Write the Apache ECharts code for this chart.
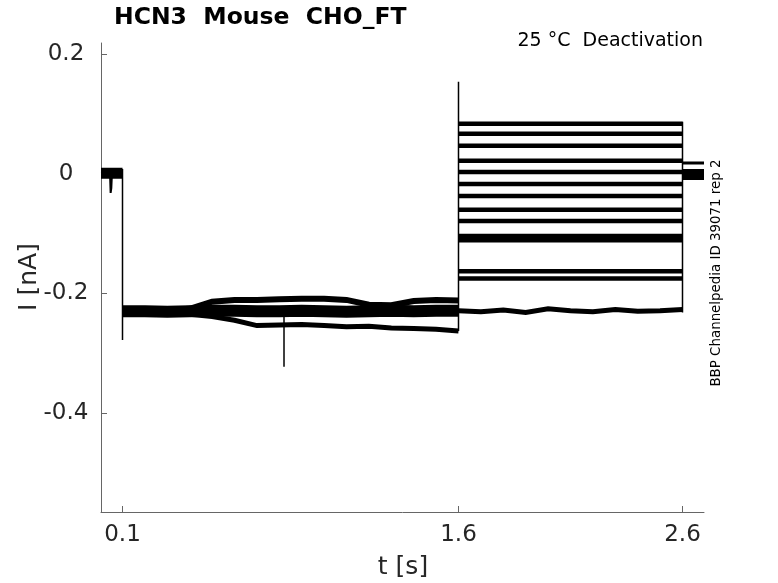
<!DOCTYPE html>
<html>
<head>
<meta charset="utf-8">
<title>HCN3 Mouse CHO_FT</title>
<script src="https://cdn.jsdelivr.net/npm/echarts@6/dist/echarts.min.js"></script>
<style>
  html, body { margin: 0; padding: 0; background: #fff; }
  #chart { width: 778px; height: 583px; }
</style>
</head>
<body>
<div id="chart"></div>
<script>
// axis ticks
const tickX = [0.1, 1.6, 2.6];
const tickY = [0.2, 0, -0.2, -0.4];

// holding period before the pulse (s, nA)
const holdTimes = [0.004, 0.044, 0.047, 0.05, 0.053, 0.1];
const holdCurrent = [0.004, 0.003, -0.032, -0.024, 0.002, 0.004];
const holdLevel = 0.001;

// prepulse 0.1 .. 1.6 s, three groups of sweeps
const preTimes = [0.1, 0.2, 0.3, 0.4, 0.5, 0.6, 0.7, 0.8, 0.9, 1.0, 1.1, 1.2, 1.3, 1.4, 1.5, 1.6];
const preMid = [-0.230, -0.230, -0.231, -0.230, -0.229, -0.229, -0.230, -0.230, -0.229, -0.230, -0.231, -0.230, -0.229, -0.230, -0.229, -0.229];
const preHigh = [-0.229, -0.229, -0.228, -0.226, -0.214, -0.211, -0.211, -0.210, -0.209, -0.209, -0.211, -0.219, -0.220, -0.213, -0.211, -0.212];
const preLow = [-0.231, -0.232, -0.233, -0.235, -0.239, -0.245, -0.254, -0.253, -0.252, -0.254, -0.256, -0.255, -0.258, -0.259, -0.260, -0.263];

// test pulse 1.6 .. 2.6 s, one level per sweep
const testTimes = [1.6, 1.7, 1.8, 1.9, 2.0, 2.1, 2.2, 2.3, 2.4, 2.5, 2.6];
const testLevels = [0.084, 0.067, 0.047, 0.022, 0.003, -0.017, -0.037, -0.060, -0.079, -0.104, -0.111, -0.163, -0.175];
const testBottom = [-0.229, -0.231, -0.228, -0.232, -0.226, -0.229, -0.231, -0.227, -0.230, -0.229, -0.227];

// tail after 2.6 s
const tailTimes = [2.6, 2.696];
const tailUpper = 0.018;
const tailLevel = -0.001;

// fast vertical transitions
const jumpTimes = [0.1, 0.821, 1.6, 2.6];
const jumpFrom = [0.008, -0.232, -0.263, -0.232];
const jumpTo = [-0.278, -0.323, 0.154, 0.087];

const ink = "#000";
const textColor = "#262626";
const font = "DejaVu Sans";

function pairs(times, values) {
  return times.map((t, k) => [t, values[k]]);
}

function trace(data, width) {
  return {
    type: "line",
    data,
    symbol: "none",
    silent: true,
    animation: false,
    lineStyle: { color: ink, width, cap: "butt", join: "miter" },
  };
}

const series = [];
// holding current
series.push(trace(holdTimes.map((t) => [t, holdLevel]), 11));
series.push(trace(pairs(holdTimes, holdCurrent), 2));
// prepulse
series.push(trace(pairs(preTimes, preMid), 12));
series.push(trace(pairs(preTimes, preHigh), 6));
series.push(trace(pairs(preTimes, preLow), 5));
// test pulse
testLevels.forEach((level) => {
  series.push(trace(testTimes.map((t) => [t, level]), 4.5));
});
series.push(trace(pairs(testTimes, testBottom), 5));
// tail
series.push(trace(tailTimes.map((t) => [t, tailUpper]), 3));
series.push(trace(tailTimes.map((t) => [t, tailLevel]), 11));
// vertical steps and spikes
jumpTimes.forEach((t, k) => {
  series.push(trace([[t, jumpFrom[k]], [t, jumpTo[k]]], 1.5));
});

const chart = echarts.init(document.getElementById("chart"));

const axisLine = { show: true, onZero: false, lineStyle: { color: "#666", width: 1 } };

chart.setOption({
  animation: false,
  backgroundColor: "#fff",
  grid: { left: 101, right: 74, top: 43, bottom: 71, containLabel: false },
  xAxis: {
    type: "value",
    min: 0.004,
    max: 2.696,
    axisLine,
    splitLine: { show: false },
    axisTick: { show: true, inside: true, length: 6, customValues: tickX, lineStyle: { color: "#666" } },
    axisLabel: {
      customValues: tickX,
      margin: 12,
      color: textColor,
      fontFamily: font,
      fontSize: 23,
      formatter: (v) => String(v),
    },
  },
  yAxis: {
    type: "value",
    min: -0.566,
    max: 0.219,
    axisLine,
    splitLine: { show: false },
    axisTick: { show: true, inside: true, length: 6, customValues: tickY, lineStyle: { color: "#666" } },
    axisLabel: {
      customValues: tickY,
      margin: 35,
      align: "center",
      color: textColor,
      fontFamily: font,
      fontSize: 23,
      formatter: (v) => String(v),
    },
  },
  graphic: [
    {
      type: "text",
      x: 114,
      y: 18,
      style: {
        text: "HCN3  Mouse  CHO_FT",
        fill: "#000",
        font: "bold 23.5px 'DejaVu Sans'",
        align: "left",
        verticalAlign: "middle",
      },
    },
    {
      type: "text",
      x: 703,
      y: 41,
      style: {
        text: "25 °C  Deactivation",
        fill: "#000",
        font: "19px 'DejaVu Sans'",
        align: "right",
        verticalAlign: "middle",
      },
    },
    {
      type: "text",
      x: 403,
      y: 567,
      style: {
        text: "t [s]",
        fill: textColor,
        font: "25px 'DejaVu Sans'",
        align: "center",
        verticalAlign: "middle",
      },
    },
    {
      type: "text",
      x: 29,
      y: 277,
      rotation: Math.PI / 2,
      style: {
        text: "I [nA]",
        fill: textColor,
        font: "25px 'DejaVu Sans'",
        align: "center",
        verticalAlign: "middle",
      },
    },
    {
      type: "text",
      x: 717,
      y: 273,
      rotation: Math.PI / 2,
      style: {
        text: "BBP Channelpedia ID 39071 rep 2",
        fill: "#000",
        font: "13.4px 'DejaVu Sans'",
        align: "center",
        verticalAlign: "middle",
      },
    },
  ],
  series,
});
</script>
</body>
</html>
